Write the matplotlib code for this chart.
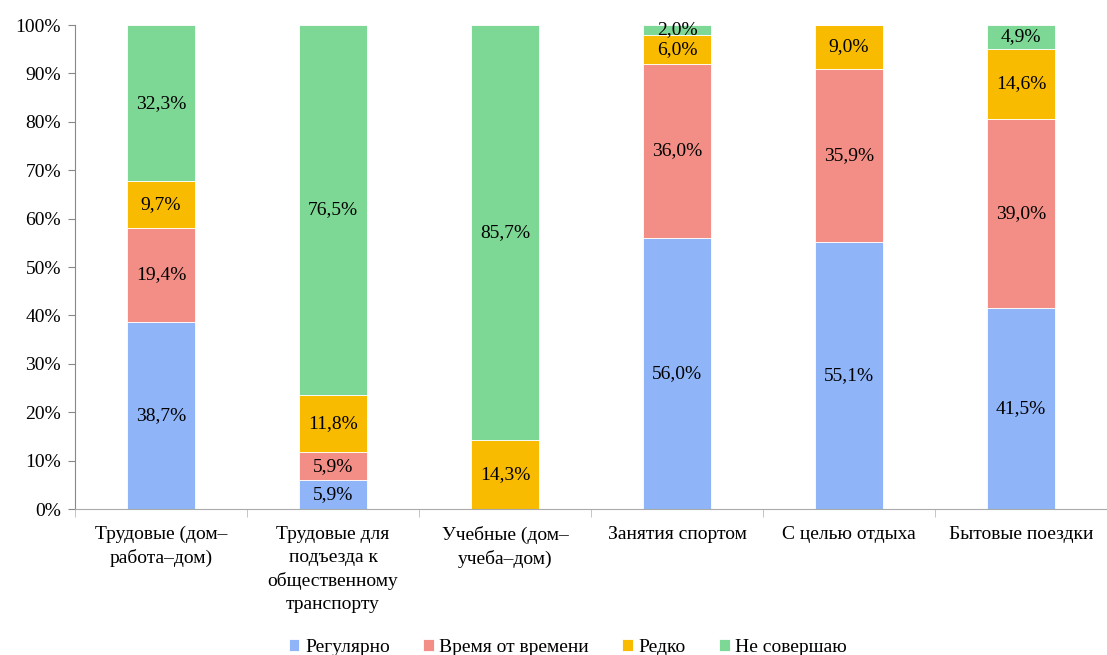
import matplotlib
matplotlib.use("Agg")
import matplotlib.pyplot as plt
import numpy as np

plt.rcParams['font.family'] = ['Liberation Serif', 'DejaVu Serif']

categories = [
    "Трудовые (дом–\nработа–дом)",
    "Трудовые для\nподъезда к\nобщественному\nтранспорту",
    "Учебные (дом–\nучеба–дом)",
    "Занятия спортом",
    "С целью отдыха",
    "Бытовые поездки",
]
series_names = ["Регулярно", "Время от времени", "Редко", "Не совершаю"]
regular = [38.7, 5.9, 0.0, 56.0, 55.1, 41.5]
sometimes = [19.4, 5.9, 0.0, 36.0, 35.9, 39.0]
rarely = [9.7, 11.8, 14.3, 6.0, 9.0, 14.6]
never = [32.3, 76.5, 85.7, 2.0, 0.0, 4.9]
colors = ["#8FB4F8", "#F28E86", "#F9BB00", "#7DD795"]
y_ticks = [0, 10, 20, 30, 40, 50, 60, 70, 80, 90, 100]

FS = 14

series = np.array([regular, sometimes, rarely, never])
totals = series.sum(axis=0)
shares = series / totals * 100

fig = plt.figure(figsize=(11.07, 6.55), dpi=100)
ax = fig.add_axes([0.0678, 0.2229, 0.9322, 0.7389])

x = np.arange(len(categories))
bottom = np.zeros(len(categories))
for name, vals, h, c in zip(series_names, series, shares, colors):
    ax.bar(x, h, bottom=bottom, width=0.4, color=c, label=name,
           edgecolor="white", linewidth=0.6)
    for xi, v, hi, b in zip(x, vals, h, bottom):
        if v > 0:
            ax.text(xi, b + hi / 2, f"{v:.1f}%".replace(".", ","),
                    ha="center", va="center", fontsize=FS, color="black")
    bottom += h

ax.set_xlim(-0.5, len(categories) - 0.5)
ax.set_ylim(0, 100)
ax.set_yticks(y_ticks)
ax.set_yticklabels([f"{t}%" for t in y_ticks], fontsize=FS)
ax.set_xticks(x)
ax.set_xticklabels(categories, fontsize=FS, linespacing=1.45)
ax.tick_params(axis="x", length=0, pad=12)
ax.tick_params(axis="y", length=5, color="#888888", pad=5)
ax.set_xticks(np.arange(-0.5, len(categories)), minor=True)
ax.tick_params(axis="x", which="minor", length=6, color="#bbbbbb")

for s in ["top", "right"]:
    ax.spines[s].set_visible(False)
ax.spines["left"].set_color("#888888")
ax.spines["bottom"].set_color("#aaaaaa")

fig.legend(loc="lower center", ncol=4, frameon=False, fontsize=FS,
           handlelength=0.55, handleheight=0.55, handletextpad=0.3,
           columnspacing=1.7, bbox_to_anchor=(0.513, -0.028))

fig.savefig("out.png", dpi=100)
